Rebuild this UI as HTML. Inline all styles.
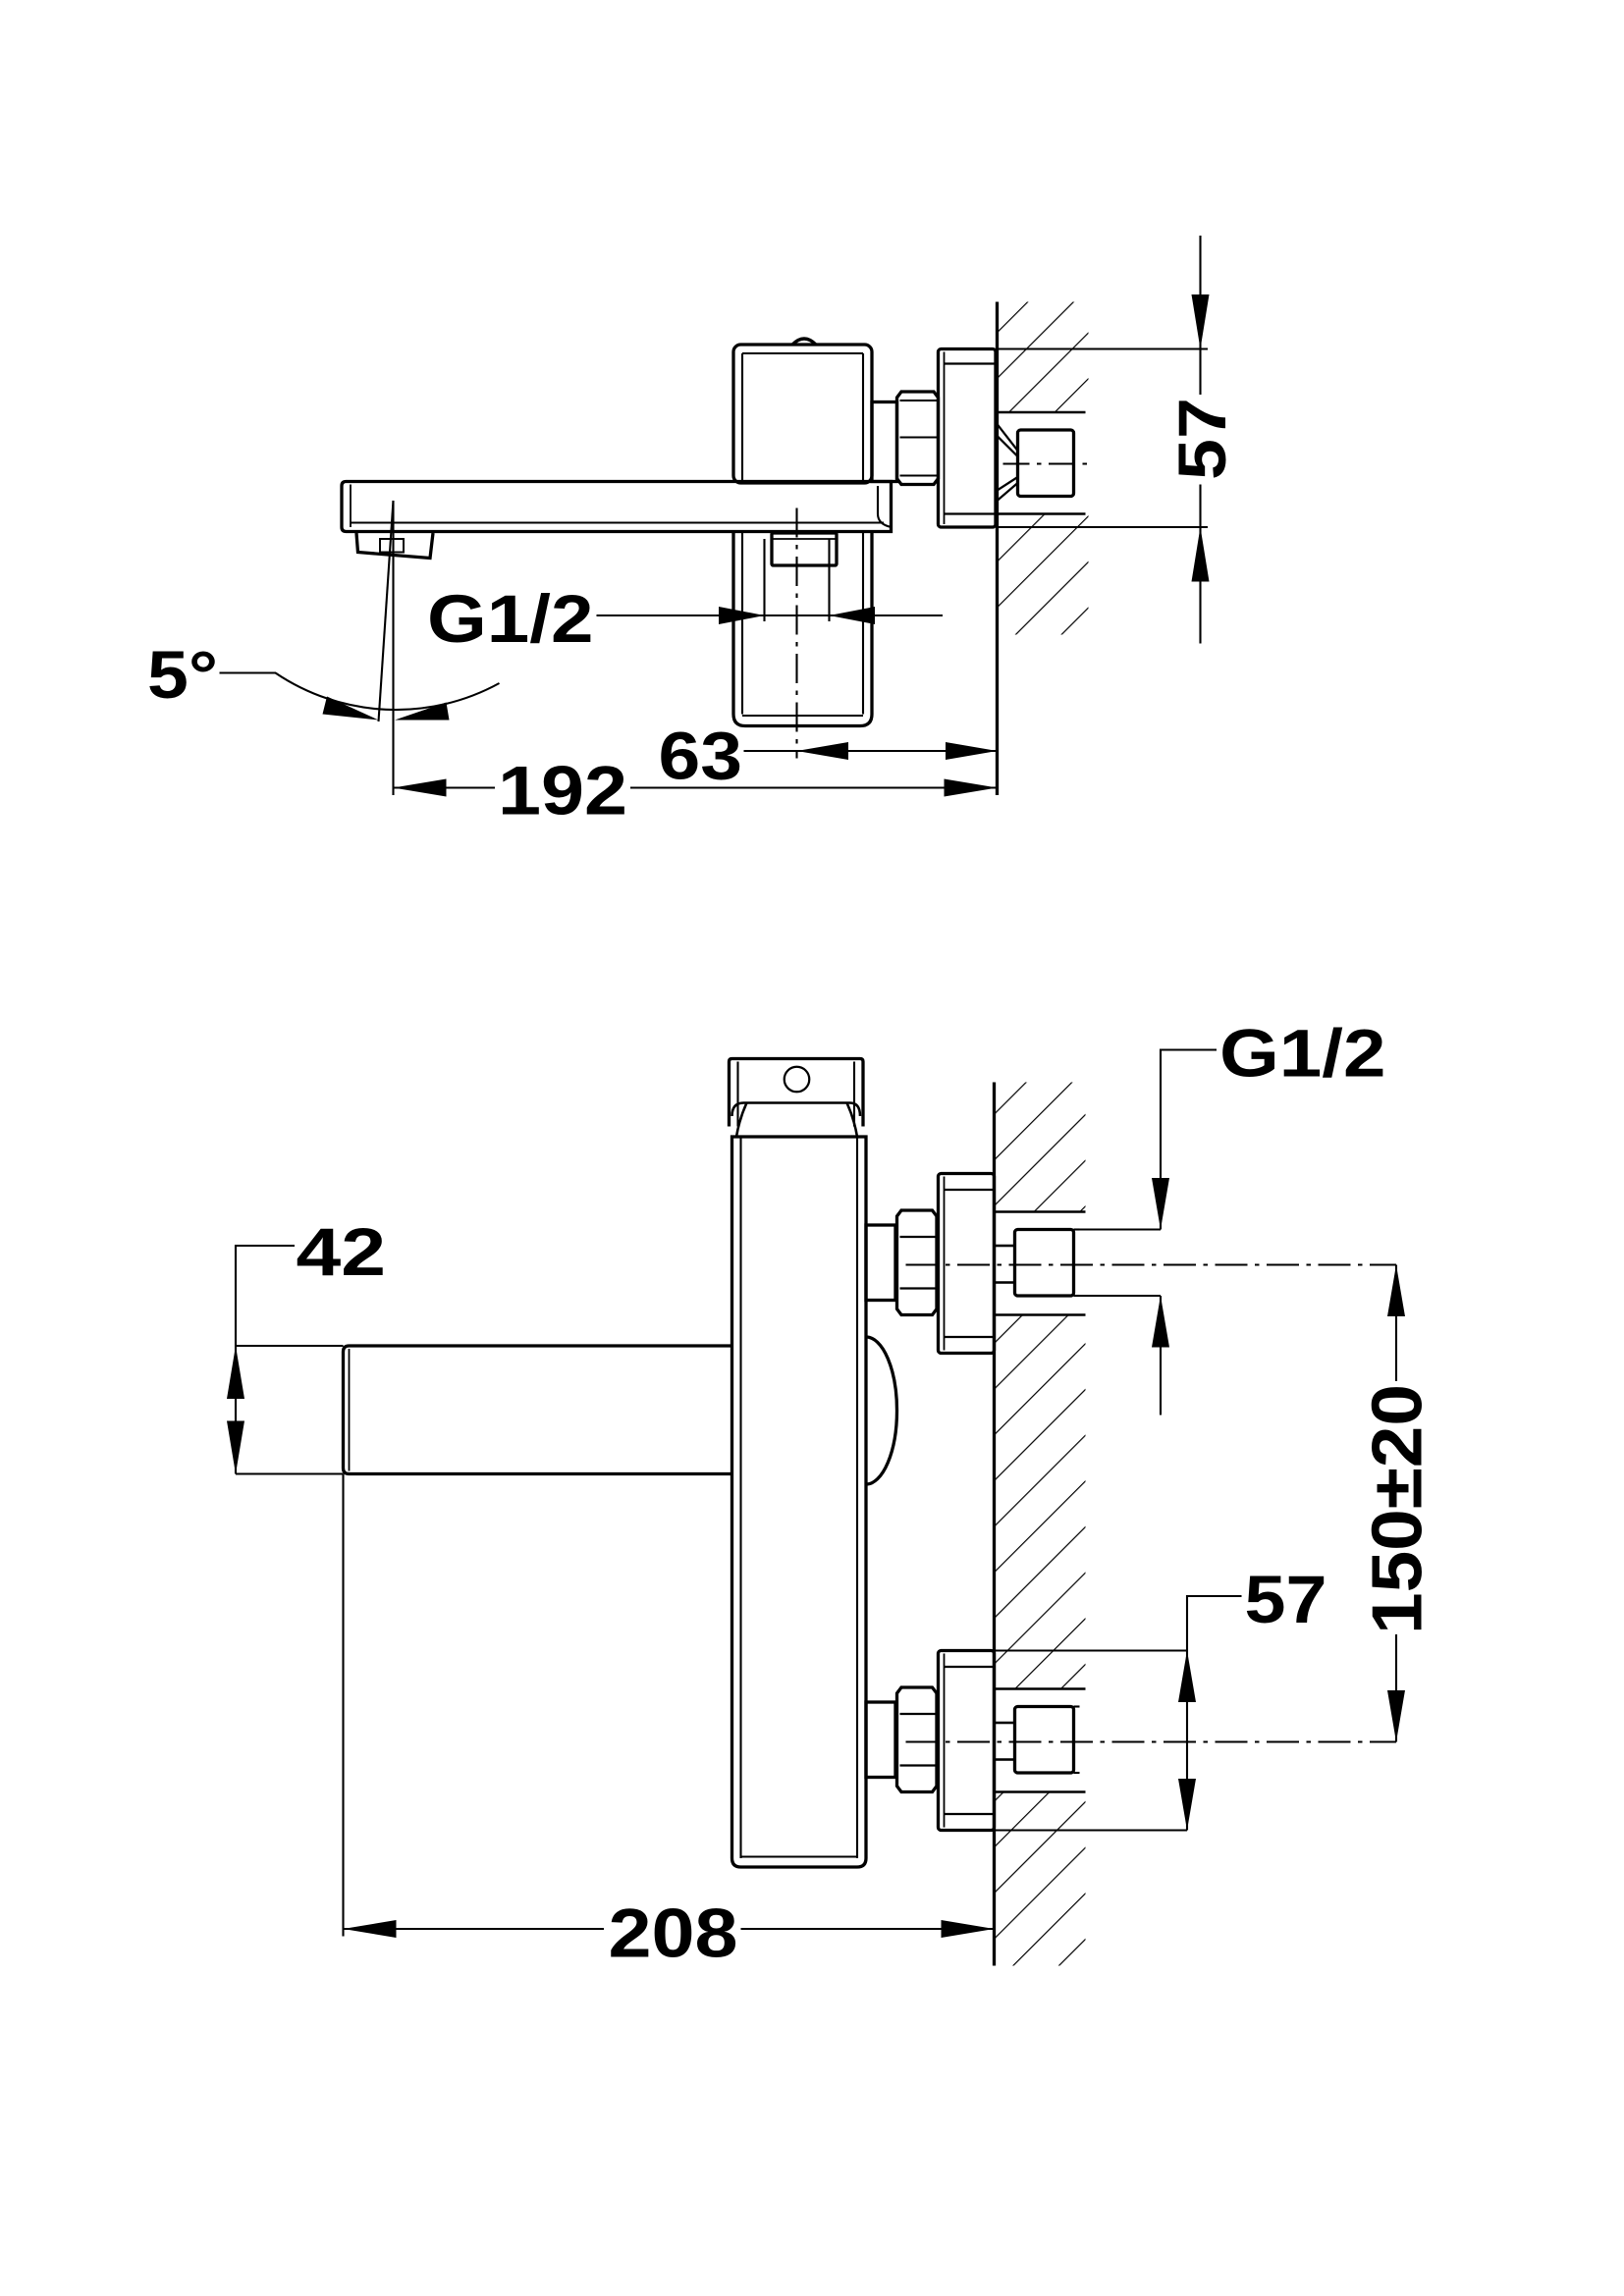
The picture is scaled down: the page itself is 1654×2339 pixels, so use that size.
<!DOCTYPE html>
<html><head><meta charset="utf-8"><style>
html,body{margin:0;padding:0;background:#fff;}
svg{display:block;}
text{font-family:"Liberation Sans",Arial,sans-serif;font-weight:bold;fill:#000;}
</style></head><body>
<svg width="1654" height="2339" viewBox="0 0 1102.67 1559.33" xmlns="http://www.w3.org/2000/svg">
<defs>
<pattern id="h" patternUnits="userSpaceOnUse" width="22" height="22" patternTransform="rotate(45)">
<line x1="0" y1="0" x2="0" y2="22" stroke="#000" stroke-width="1.6"/>
</pattern>
<g id="pipe" fill="none" stroke="#000">
  <rect x="637" y="797" width="38" height="122" rx="2" stroke-width="2.2"/>
  <line x1="641" y1="799" x2="641" y2="917" stroke-width="1.2"/>
  <line x1="641" y1="808" x2="675" y2="808" stroke-width="1.5"/>
  <line x1="641" y1="908" x2="675" y2="908" stroke-width="1.5"/>
  <path d="M609,826 L612,822 H633 L636,826 V889 L633,893 H612 L609,889 Z" stroke-width="2.2"/>
  <line x1="611" y1="840" x2="635" y2="840" stroke-width="1.5"/>
  <line x1="611" y1="875" x2="635" y2="875" stroke-width="1.5"/>
  <rect x="588" y="832" width="20" height="51" stroke-width="2.2"/>
  <line x1="675" y1="823" x2="737" y2="823" stroke-width="1.7"/>
  <line x1="675" y1="893" x2="737" y2="893" stroke-width="1.7"/>
  <rect x="675" y="846" width="14" height="25" stroke-width="1.7"/>
  <rect x="689" y="835" width="40" height="45" rx="2" stroke-width="2.2"/>
  <line x1="729" y1="835" x2="733" y2="835" stroke-width="1.4"/>
  <line x1="729" y1="880" x2="733" y2="880" stroke-width="1.4"/>
  <line x1="615" y1="859" x2="948" y2="859" stroke-width="1.3" stroke-dasharray="22,5,3,5"/>
</g>
</defs>

<!-- ============ TOP VIEW ============ -->
<g fill="url(#h)" stroke="none">
  <rect x="677" y="205" width="62" height="75"/>
  <rect x="677" y="349" width="62" height="82"/>
</g>
<g fill="none" stroke="#000" stroke-width="2.2">
  <line x1="677" y1="205" x2="677" y2="540"/>
  <line x1="677" y1="280" x2="737" y2="280" stroke-width="1.7"/>
  <line x1="677" y1="349" x2="737" y2="349" stroke-width="1.7"/>
  <rect x="637" y="237" width="39" height="121" rx="2"/>
  <line x1="641" y1="239" x2="641" y2="356" stroke-width="1.2"/>
  <line x1="641" y1="247" x2="676" y2="247" stroke-width="1.5"/>
  <line x1="641" y1="349" x2="676" y2="349" stroke-width="1.5"/>
  <path d="M609,270 L612,266 H634 L637,270 V325 L634,329 H612 L609,325 Z"/>
  <line x1="611" y1="272" x2="636" y2="272" stroke-width="1.4"/>
  <line x1="611" y1="297" x2="636" y2="297" stroke-width="1.4"/>
  <line x1="611" y1="323" x2="636" y2="323" stroke-width="1.4"/>
  <rect x="592" y="273" width="17" height="54"/>
  <path d="M677,288 L691,306 M677,296 L691,310 M677,340 L691,328 M677,333 L691,324" stroke-width="1.5"/>
  <rect x="691" y="292" width="38" height="45" rx="2"/>
  <line x1="681" y1="315" x2="741" y2="315" stroke-width="1.3" stroke-dasharray="18,5,3,5"/>
  <rect x="498" y="234" width="94" height="94" rx="5"/>
  <line x1="504" y1="240" x2="504" y2="328" stroke-width="1.4"/>
  <line x1="586" y1="240" x2="586" y2="328" stroke-width="1.4"/>
  <line x1="504" y1="240" x2="586" y2="240" stroke-width="1.4"/>
  <path d="M538,234 Q546,226 554,234" />
  <path d="M235,327 H605 V361 H235 Q232,361 232,358 V330 Q232,327 235,327 Z"/>
  <line x1="238" y1="329" x2="238" y2="358" stroke-width="1.2"/>
  <line x1="238" y1="355" x2="600" y2="355" stroke-width="1.4"/>
  <path d="M596,330 V349 Q596,356 605,358" stroke-width="1.4"/>
  <path d="M498,361 V485 Q498,493 506,493 H584 Q592,493 592,485 V361"/>
  <line x1="504" y1="361" x2="504" y2="485" stroke-width="1.4"/>
  <line x1="586" y1="361" x2="586" y2="485" stroke-width="1.4"/>
  <line x1="504" y1="486" x2="586" y2="486" stroke-width="1.4"/>
  <rect x="524" y="362" width="44" height="22" rx="1"/>
  <line x1="524" y1="366" x2="568" y2="366" stroke-width="1.2"/>
  <path d="M242,362 L243,375 L292,379 L294,362"/>
  <rect x="258" y="366" width="16" height="9" stroke-width="1.3"/>
</g>
<g fill="none" stroke="#000" stroke-width="1.4">
  <line x1="541" y1="345" x2="541" y2="515" stroke-dasharray="20,5,3,5"/>
  <line x1="405" y1="418" x2="640" y2="418"/>
  <line x1="519" y1="366" x2="519" y2="422"/>
  <line x1="563" y1="366" x2="563" y2="422"/>
  <line x1="267" y1="340" x2="257" y2="490"/>
  <line x1="267" y1="340" x2="267" y2="540"/>
  <path d="M149,457 H187 A146 146 0 0 0 339,464"/>
  <line x1="505" y1="510" x2="677" y2="510"/>
  <line x1="267" y1="535" x2="336" y2="535"/>
  <line x1="428" y1="535" x2="677" y2="535"/>
  <line x1="815" y1="160" x2="815" y2="268"/>
  <line x1="815" y1="329" x2="815" y2="437"/>
  <line x1="676" y1="237" x2="820" y2="237"/>
  <line x1="676" y1="358" x2="820" y2="358"/>
</g>
<g fill="#000">
  <polygon points="519,418 488,412 488,424"/>
  <polygon points="563,418 594,412 594,424"/>
  <polygon points="257,489 222,473 219,485"/>
  <polygon points="268,489 303,477 305,489"/>
  <polygon points="541,510 576,504 576,516"/>
  <polygon points="677,510 642,504 642,516"/>
  <polygon points="267,535 303,529 303,541"/>
  <polygon points="677,535 641,529 641,541"/>
  <polygon points="815,237 809,200 821,200"/>
  <polygon points="815,358 809,395 821,395"/>
</g>
<text x="290" y="436" font-size="46" textLength="113" lengthAdjust="spacingAndGlyphs">G1/2</text>
<text x="100" y="474" font-size="46" textLength="48" lengthAdjust="spacingAndGlyphs">5°</text>
<text x="447" y="529" font-size="46" textLength="57" lengthAdjust="spacingAndGlyphs">63</text>
<text x="338" y="553" font-size="47" textLength="88" lengthAdjust="spacingAndGlyphs">192</text>
<text transform="translate(832,326) rotate(-90)" font-size="46" textLength="56" lengthAdjust="spacingAndGlyphs">57</text>

<!-- ============ BOTTOM VIEW ============ -->
<g fill="url(#h)" stroke="none">
  <rect x="675" y="735" width="62" height="88"/>
  <rect x="675" y="893" width="62" height="254"/>
  <rect x="675" y="1217" width="62" height="118"/>
</g>
<g fill="none" stroke="#000" stroke-width="2.2">
  <line x1="675" y1="735" x2="675" y2="1335"/>
  <path d="M495,765 V721 Q495,719 497,719 H584 Q586,719 586,721 V765"/>
  <line x1="501" y1="721" x2="501" y2="765" stroke-width="1.4"/>
  <line x1="580" y1="721" x2="580" y2="765" stroke-width="1.4"/>
  <path d="M497,758 Q497,749 505,749 H577 Q584,749 584,758" stroke-width="1.7"/>
  <path d="M507,749 Q502,760 500,772 M575,749 Q580,760 582,772" stroke-width="1.7"/>
  <circle cx="541" cy="733" r="8.5" stroke-width="1.5"/>
  <path d="M497,772 H588 V1262 Q588,1268 582,1268 H503 Q497,1268 497,1262 Z"/>
  <line x1="503" y1="772" x2="503" y2="1262" stroke-width="1.4"/>
  <line x1="582" y1="772" x2="582" y2="1262" stroke-width="1.4"/>
  <line x1="503" y1="1261" x2="582" y2="1261" stroke-width="1.4"/>
  <path d="M588,908 A21 50 0 0 1 588,1008"/>
  <path d="M497,914 H237 Q233,914 233,918 V997 Q233,1001 237,1001 H497"/>
  <line x1="237" y1="916" x2="237" y2="999" stroke-width="1.2"/>
</g>
<use href="#pipe"/>
<use href="#pipe" transform="translate(0,324)"/>
<g fill="none" stroke="#000" stroke-width="1.4">
  <line x1="729" y1="835" x2="788" y2="835"/>
  <line x1="729" y1="880" x2="788" y2="880"/>
  <path d="M826,713 H788 V835"/>
  <line x1="788" y1="880" x2="788" y2="961"/>
  <line x1="948" y1="859" x2="948" y2="938"/>
  <line x1="948" y1="1110" x2="948" y2="1183"/>
  <line x1="641" y1="1121" x2="806" y2="1121"/>
  <line x1="675" y1="1243" x2="806" y2="1243"/>
  <path d="M843,1084 H806 V1243"/>
  <line x1="160" y1="914" x2="233" y2="914"/>
  <line x1="160" y1="1001" x2="233" y2="1001"/>
  <path d="M200,846 H160 V1001"/>
  <line x1="233" y1="1001" x2="233" y2="1315"/>
  <line x1="233" y1="1310" x2="410" y2="1310"/>
  <line x1="503" y1="1310" x2="675" y2="1310"/>
</g>
<g fill="#000">
  <polygon points="788,835 782,800 794,800"/>
  <polygon points="788,880 782,915 794,915"/>
  <polygon points="948,859 942,894 954,894"/>
  <polygon points="948,1183 942,1148 954,1148"/>
  <polygon points="806,1121 800,1156 812,1156"/>
  <polygon points="806,1243 800,1208 812,1208"/>
  <polygon points="160,914 154,950 166,950"/>
  <polygon points="160,1001 154,965 166,965"/>
  <polygon points="233,1310 269,1304 269,1316"/>
  <polygon points="675,1310 639,1304 639,1316"/>
</g>
<text x="828" y="731" font-size="46" textLength="113" lengthAdjust="spacingAndGlyphs">G1/2</text>
<text x="201" y="866" font-size="46" textLength="61" lengthAdjust="spacingAndGlyphs">42</text>
<text x="845" y="1102" font-size="46" textLength="56" lengthAdjust="spacingAndGlyphs">57</text>
<text x="413" y="1329" font-size="47" textLength="88" lengthAdjust="spacingAndGlyphs">208</text>
<text transform="translate(965,1110) rotate(-90)" font-size="48" textLength="170" lengthAdjust="spacingAndGlyphs">150±20</text>
</svg>
</body></html>
